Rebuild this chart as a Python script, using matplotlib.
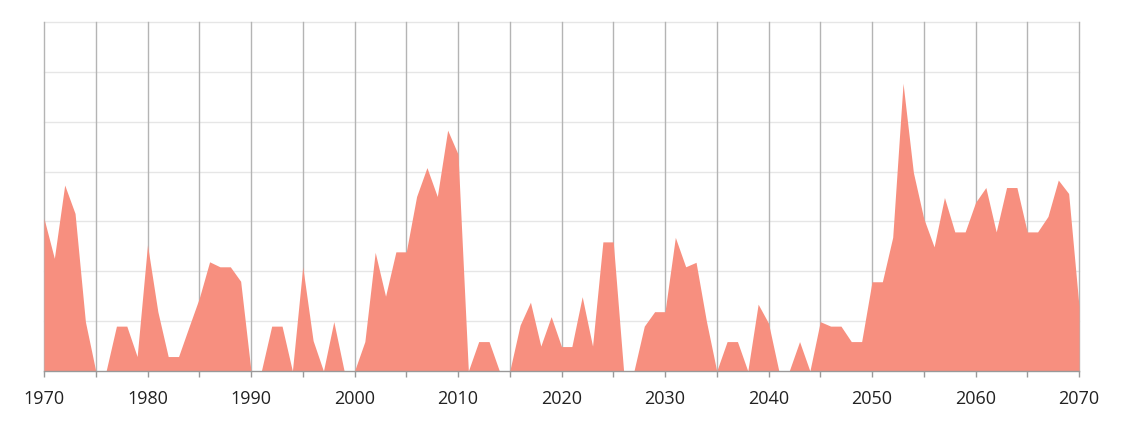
import matplotlib
matplotlib.use("Agg")
import matplotlib.pyplot as plt
from matplotlib.ticker import MultipleLocator

years = list(range(1970, 2071))
values = [
    30.6, 22.6, 37.3, 31.6, 9.9, 0, 0, 9.0, 9.0, 2.9,
    25.3, 11.9, 2.9, 2.9, 8.8, 14.6, 21.9, 20.9, 20.9, 18.0,
    0, 0, 9.0, 9.0, 0, 20.9, 6.1, 0, 9.9, 0,
    0, 5.9, 23.8, 15.0, 23.9, 23.9, 35.0, 40.8, 35.0, 48.3,
    43.5, 0, 5.9, 5.9, 0, 0, 9.2, 13.8, 5.0, 10.9,
    4.9, 4.9, 14.9, 5.0, 25.9, 25.9, 0, 0, 9.0, 11.9,
    11.9, 26.8, 20.9, 21.8, 10.0, 0, 5.9, 5.9, 0, 13.4,
    9.6, 0, 0, 5.9, 0, 9.9, 9.0, 9.0, 5.9, 5.9,
    17.9, 17.9, 26.8, 57.7, 39.8, 30.6, 24.9, 34.8, 27.9, 27.9,
    33.8, 36.8, 27.9, 36.8, 36.8, 27.9, 27.9, 31.0, 38.3, 35.6,
    13.0,
]
x_labels = [str(y) for y in range(1970, 2071, 10)]

plt.rcParams['font.family'] = ['Open Sans', 'DejaVu Sans']

W, H = 1124, 423
fig = plt.figure(figsize=(W / 100, H / 100), dpi=100)
ax = fig.add_axes([44 / W, (H - 371) / H, (1079 - 44) / W, (371 - 22) / H])

ax.fill_between(years, values, 0, color='#F78F7F', linewidth=0, zorder=3)

ax.set_xlim(1970, 2070)
ax.set_ylim(0, 70)

# horizontal grid
for yv in range(10, 71, 10):
    ax.axhline(yv, color='#e6e6e6', linewidth=1, zorder=1, clip_on=False)
# vertical grid
for xv in range(1970, 2071, 5):
    ax.axvline(xv, color='#b4b4b4', linewidth=1, zorder=2, clip_on=False)

ax.xaxis.set_minor_locator(MultipleLocator(5))
ax.set_xticks(list(range(1970, 2071, 10)))
ax.set_xticklabels(x_labels)
ax.tick_params(axis='x', which='both', length=4.5, width=1, color='#999999',
               direction='out', labelsize=13, labelcolor='#222222', pad=9)
ax.set_yticks([])

for s in ['top', 'right', 'left']:
    ax.spines[s].set_visible(False)
ax.spines['bottom'].set_color('#999999')
ax.spines['bottom'].set_linewidth(1)
ax.spines['bottom'].set_zorder(4)

fig.savefig('out.png', dpi=100)
